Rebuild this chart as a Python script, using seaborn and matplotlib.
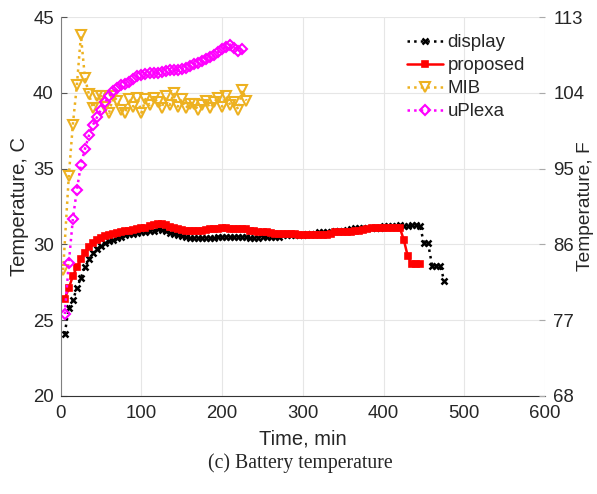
import numpy as np
import pandas as pd
import matplotlib
matplotlib.use("Agg")
import matplotlib.pyplot as plt
import seaborn as sns

# time axis in minutes, sampled about every 5 min
display_t = list(range(5, 480, 5))
display_c = [24.1, 25.8, 26.3, 27.1, 27.8, 28.5, 29.0, 29.4, 29.7, 29.9,
             30.1, 30.2, 30.3, 30.4, 30.5, 30.6, 30.65, 30.7, 30.75, 30.8,
             30.8, 30.85, 30.9, 31.0, 30.95, 30.85, 30.75, 30.7, 30.6, 30.55,
             30.5, 30.4, 30.4, 30.4, 30.4, 30.4, 30.45, 30.45, 30.5, 30.5,
             30.5, 30.5, 30.5, 30.5, 30.5, 30.5, 30.45, 30.45, 30.45, 30.5,
             30.5, 30.5, 30.5, 30.5, 30.6, 30.6, 30.6, 30.6, 30.6, 30.6,
             30.65, 30.65, 30.7, 30.8, 30.8, 30.8, 30.8, 30.85, 30.9, 30.9,
             30.95, 31.0, 31.05, 31.05, 31.05, 31.05, 31.1, 31.1, 31.1, 31.2,
             31.2, 31.2, 31.2, 31.25, 31.2, 31.2, 31.25, 31.3, 31.2, 30.1,
             30.1, 28.6, 28.6, 28.6, 27.6]

proposed_t = list(range(5, 450, 5))
proposed_c = [26.4, 27.1, 27.9, 28.5, 29.0, 29.45, 29.85, 30.1, 30.3, 30.45,
              30.55, 30.6, 30.7, 30.75, 30.8, 30.85, 30.9, 30.95, 31.0, 31.05,
              31.1, 31.2, 31.25, 31.35, 31.35, 31.3, 31.15, 31.05, 31.0, 30.95,
              30.9, 30.9, 30.85, 30.85, 30.9, 30.95, 31.0, 31.0, 31.0, 31.05,
              31.05, 31.0, 31.0, 31.0, 31.0, 31.0, 30.9, 30.85, 30.8, 30.8,
              30.8, 30.75, 30.7, 30.7, 30.7, 30.7, 30.7, 30.65, 30.6, 30.6,
              30.6, 30.6, 30.6, 30.6, 30.6, 30.6, 30.7, 30.8, 30.8, 30.8,
              30.8, 30.8, 30.85, 30.9, 30.95, 31.0, 31.05, 31.05, 31.05, 31.05,
              31.05, 31.05, 31.05, 31.1, 30.3, 29.2, 28.7, 28.7, 28.7]

mib_t = [3] + list(range(10, 235, 5))
mib_c = [28.3, 34.5, 37.9, 40.5, 43.8, 41.0, 39.9, 39.0, 39.8, 39.8,
         39.1, 38.7, 39.8, 39.5, 38.9, 38.7, 39.6, 39.1, 39.7, 38.7,
         39.6, 39.2, 39.7, 39.4, 39.0, 39.8, 39.2, 40.0, 39.1, 39.6,
         39.0, 39.3, 39.3, 38.9, 39.2, 39.5, 39.0, 39.4, 39.7, 39.1,
         39.8, 39.2, 39.4, 38.9, 40.2, 39.5]

uplexa_t = list(range(5, 230, 5))
uplexa_c = [25.4, 28.75, 31.65, 33.6, 35.25, 36.3, 37.2, 37.9, 38.4, 38.9,
            39.4, 39.8, 40.1, 40.3, 40.5, 40.6, 40.75, 40.9, 41.1, 41.2,
            41.25, 41.3, 41.3, 41.35, 41.4, 41.45, 41.5, 41.5, 41.55, 41.6,
            41.65, 41.8, 41.9, 42.0, 42.1, 42.25, 42.35, 42.5, 42.7, 42.9,
            43.05, 43.2, 43.0, 42.75, 42.9]

x_ticks = [0, 100, 200, 300, 400, 500, 600]
c_ticks = [20, 25, 30, 35, 40, 45]
f_ticks = [68, 77, 86, 95, 104, 113]

sns.set_style("white")
plt.rcParams['font.family'] = ['Liberation Sans', 'DejaVu Sans']
plt.rcParams['xtick.direction'] = 'in'
plt.rcParams['ytick.direction'] = 'in'

fig = plt.figure(figsize=(5.97, 4.94), dpi=100)
ax = fig.add_axes([0.1017, 0.199, 0.8113, 0.766])

series = [
    ("display", display_t, display_c, "black", "x", ":", 4, 1.8, "black"),
    ("proposed", proposed_t, proposed_c, "red", "s", "-", 5, 1.2, "red"),
    ("MIB", mib_t, mib_c, "#EDB120", "v", ":", 7.5, 1.5, "none"),
    ("uPlexa", uplexa_t, uplexa_c, "#FF00FF", "D", ":", 5.5, 1.5, "none"),
]
for name, t, c, col, mk, ls, ms, mew, mfc in series:
    df = pd.DataFrame({"t": t, "c": c})
    sns.lineplot(data=df, x="t", y="c", ax=ax, color=col, marker=mk,
                 linestyle=ls, linewidth=1.8, markersize=ms,
                 markeredgewidth=mew, markerfacecolor=mfc,
                 markeredgecolor=col, sort=False, estimator=None,
                 label=name)

ax.set_xlim(0, 600)
ax.set_ylim(20, 45)
ax.set_xticks(x_ticks)
ax.set_yticks(c_ticks)
ax.grid(True, color="#e6e6e6", linewidth=0.8)
ax.set_xlabel("Time, min", fontsize=14.5, labelpad=5)
ax.set_ylabel("Temperature, C", fontsize=14.5, labelpad=3)
ax.tick_params(axis="x", labelsize=13.4, length=4, color="#555555", pad=7)
ax.tick_params(axis="y", labelsize=13.4, length=4, color="#555555", pad=5)
for s in ["top", "right"]:
    ax.spines[s].set_visible(False)
ax.spines["left"].set_color("#808080")
ax.spines["bottom"].set_color("#333333")

ax2 = ax.twinx()
ax2.set_ylim(68, 113)
ax2.set_yticks(f_ticks)
ax2.set_ylabel("Temperature, F", fontsize=13.8)
ax2.yaxis.set_label_coords(1.066, 0.5)
ax2.tick_params(labelsize=13.4, length=4, color="#aaaaaa", pad=6)
for s in ["top", "right", "left", "bottom"]:
    ax2.spines[s].set_visible(False)

leg = ax.legend(loc="upper right", bbox_to_anchor=(0.985, 0.99), frameon=False,
                fontsize=13.4, handlelength=1.9, handletextpad=0.25,
                labelspacing=0.32, borderaxespad=0.3)

fig.text(0.503, 0.062, "(c) Battery temperature", ha="center", va="center",
         fontsize=14.2, family=["Liberation Serif", "DejaVu Serif"])

fig.savefig("out.png", dpi=100)
